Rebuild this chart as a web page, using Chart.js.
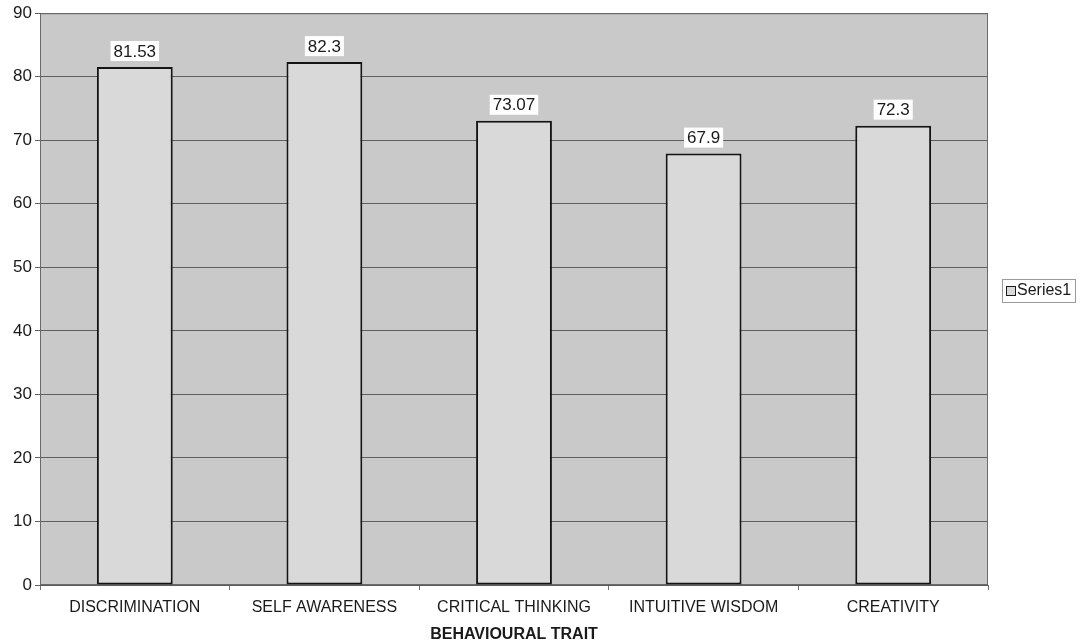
<!DOCTYPE html>
<html>
<head>
<meta charset="utf-8">
<script src="https://cdn.jsdelivr.net/npm/chart.js@4/dist/chart.umd.min.js"></script>
<style>
html,body{margin:0;padding:0;background:#fff;}
#wrap{width:1082px;height:644px;position:relative;}
</style>
</head>
<body>
<div id="wrap"><canvas id="c" width="1082" height="644"></canvas></div>
<script>
const categories = ["DISCRIMINATION", "SELF AWARENESS", "CRITICAL THINKING", "INTUITIVE WISDOM", "CREATIVITY"];
const seriesName = "Series1";
const seriesValues = [81.53, 82.3, 73.07, 67.9, 72.3];
const yTicks = [0, 10, 20, 30, 40, 50, 60, 70, 80, 90];
const xTitle = "BEHAVIOURAL TRAIT";

const FONT = "'Liberation Sans', Arial, sans-serif";

const plotBg = {
  id: 'plotBg',
  beforeDraw(chart) {
    const {ctx, chartArea: a} = chart;
    ctx.save();
    ctx.fillStyle = '#c9c9c9';
    ctx.fillRect(a.left, a.top, a.right - a.left, a.bottom - a.top);
    ctx.restore();
  },
  beforeDatasetsDraw(chart) {
    const {ctx, chartArea: a} = chart;
    ctx.save();
    ctx.strokeStyle = '#6a6a6a';
    ctx.lineWidth = 1;
    ctx.strokeRect(a.left + 0.5, a.top + 0.5, a.right - a.left - 1, a.bottom - a.top - 1);
    ctx.restore();
  },
  afterDatasetsDraw(chart) {
    const {ctx} = chart;
    const meta = chart.getDatasetMeta(0);
    ctx.save();
    ctx.font = '17px ' + FONT;
    ctx.textAlign = 'center';
    ctx.textBaseline = 'middle';
    meta.data.forEach((bar, i) => {
      const txt = String(chart.data.datasets[0].data[i]);
      const w = ctx.measureText(txt).width;
      const cy = bar.y - 16;
      ctx.fillStyle = '#ffffff';
      ctx.fillRect(bar.x - w / 2 - 3, cy - 10, w + 6, 20);
      ctx.fillStyle = '#1a1a1a';
      ctx.fillText(txt, bar.x, cy + 1);
    });
    ctx.restore();
  },
  afterDraw(chart) {
    const {ctx} = chart;
    ctx.save();
    // legend
    ctx.fillStyle = '#ffffff';
    ctx.fillRect(1002, 279, 73, 23);
    ctx.strokeStyle = '#9a9a9a';
    ctx.lineWidth = 1;
    ctx.strokeRect(1002.5, 279.5, 73, 23);
    ctx.fillStyle = '#d8d8d8';
    ctx.fillRect(1006, 286, 9, 9);
    ctx.strokeStyle = '#1a1a1a';
    ctx.strokeRect(1006.5, 286.5, 9, 9);
    ctx.fillStyle = '#1a1a1a';
    ctx.font = '16px ' + FONT;
    ctx.textAlign = 'left';
    ctx.textBaseline = 'middle';
    ctx.fillText(chart.data.datasets[0].label, 1017, 291);
    ctx.restore();
  }
};

new Chart(document.getElementById('c'), {
  type: 'bar',
  data: {
    labels: categories,
    datasets: [{
      label: seriesName,
      data: seriesValues,
      backgroundColor: '#d9d9d9',
      borderColor: '#141414',
      borderWidth: 2,
      borderSkipped: false,
      categoryPercentage: 1.0,
      barPercentage: 0.4
    }]
  },
  options: {
    responsive: false,
    animation: false,
    devicePixelRatio: 1,
    layout: { padding: { top: 12, right: 94, left: 0, bottom: 0 } },
    plugins: { legend: { display: false }, tooltip: { enabled: false } },
    scales: {
      x: {
        afterFit(s) { s.height = 59; },
        grid: { display: true, drawOnChartArea: false, offset: true, color: '#6e6e6e', tickLength: 5, drawTicks: true },
        border: { display: false },
        ticks: { color: '#1a1a1a', font: { family: FONT, size: 16 }, padding: 8, maxRotation: 0, autoSkip: false },
        title: { display: true, text: xTitle, color: '#1a1a1a', font: { family: FONT, size: 16, weight: 'bold' }, padding: { top: 4, bottom: 0 } }
      },
      y: {
        min: 0, max: 90,
        afterFit(s) { s.width = 40; },
        afterBuildTicks(s) { s.ticks = yTicks.map(v => ({ value: v })); },
        grid: { color: '#5e5e5e', lineWidth: 1, tickLength: 5, drawTicks: true },
        border: { display: false },
        ticks: { color: '#1a1a1a', font: { family: FONT, size: 17 }, padding: 3 }
      }
    }
  },
  plugins: [plotBg]
});
</script>
</body>
</html>
